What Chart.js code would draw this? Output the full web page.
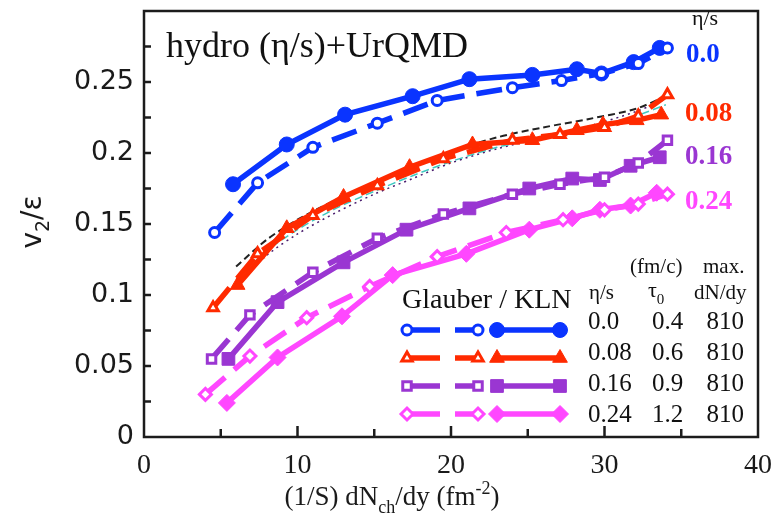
<!DOCTYPE html>
<html>
<head>
<meta charset="utf-8">
<script src="https://cdn.jsdelivr.net/npm/chart.js@4.4.0/dist/chart.umd.min.js"></script>
<style>
    html, body { margin: 0; padding: 0; background: #ffffff; }
    #wrap { width: 774px; height: 527px; }
</style>
</head>
<body>
<div id="wrap"><canvas id="v2Chart" width="774" height="527"></canvas></div>
<script>
// v2/eps vs (1/S) dNch/dy, hydro + UrQMD, Glauber (dashed) and KLN (solid)

// eta/s = 0.0
const glb00X = [4.6, 7.4, 11.0, 15.2, 19.1, 24.0, 27.2, 29.8, 32.2, 34.1];
const glb00Y = [0.144, 0.179, 0.204, 0.221, 0.237, 0.246, 0.251, 0.256, 0.263, 0.274];
const kln00X = [5.8, 9.3, 13.1, 17.5, 21.2, 25.3, 28.2, 29.8, 31.9, 33.6];
const kln00Y = [0.178, 0.206, 0.227, 0.240, 0.252, 0.255, 0.259, 0.256, 0.264, 0.274];

// eta/s = 0.08
const glb08X = [4.5, 7.4, 11.0, 15.2, 19.5, 24.0, 27.1, 30.0, 32.2, 34.1];
const glb08Y = [0.091, 0.129, 0.156, 0.177, 0.196, 0.209, 0.213, 0.218, 0.226, 0.241];
const kln08X = [6.1, 9.3, 13.0, 17.3, 21.4, 25.3, 28.2, 29.9, 32.1, 33.7];
const kln08Y = [0.107, 0.147, 0.169, 0.190, 0.206, 0.209, 0.216, 0.220, 0.223, 0.227];

// eta/s = 0.16
const glb16X = [4.4, 6.9, 11.0, 15.2, 19.5, 24.0, 27.1, 30.0, 32.2, 34.1];
const glb16Y = [0.055, 0.086, 0.116, 0.140, 0.157, 0.171, 0.178, 0.183, 0.193, 0.209];
const kln16X = [5.5, 8.7, 13.0, 17.1, 21.2, 25.1, 27.9, 29.7, 31.7, 33.6];
const kln16Y = [0.055, 0.095, 0.123, 0.146, 0.161, 0.175, 0.182, 0.181, 0.191, 0.197];

// eta/s = 0.24
const glb24X = [4.0, 6.9, 10.6, 14.7, 19.1, 23.6, 27.3, 30.0, 32.2, 34.1];
const glb24Y = [0.030, 0.057, 0.084, 0.106, 0.127, 0.144, 0.153, 0.160, 0.164, 0.171];
const kln24X = [5.4, 8.7, 12.9, 16.2, 21.0, 25.1, 27.9, 29.7, 31.7, 33.4];
const kln24Y = [0.024, 0.056, 0.085, 0.114, 0.129, 0.146, 0.154, 0.160, 0.163, 0.172];

// thin comparison curves around eta/s = 0.08
const refX = [6.0, 8.0, 10.0, 12.5, 15.0, 17.5, 20.0, 23.0, 26.0, 29.0, 32.0, 34.0];
const refBlackY = [0.120, 0.139, 0.153, 0.167, 0.179, 0.190, 0.201, 0.211, 0.218, 0.224, 0.231, 0.240];
const refCyanY = [0.111, 0.131, 0.146, 0.161, 0.173, 0.184, 0.194, 0.204, 0.211, 0.218, 0.226, 0.234];
const refDotY = [0.108, 0.128, 0.143, 0.158, 0.171, 0.182, 0.193, 0.203, 0.211, 0.219, 0.229, 0.238];

// axis ticks
const xTicks = [0, 10, 20, 30, 40];
const xMinorTicks = [5, 15, 25, 35];
const yTicks = [0, 0.05, 0.1, 0.15, 0.2, 0.25];
const yMinorTicks = [0.025, 0.075, 0.125, 0.175, 0.225, 0.275];

// legend table
const tableEta = ['0.0', '0.08', '0.16', '0.24'];
const tableTau = ['0.4', '0.6', '0.9', '1.2'];
const tableDn = ['810', '810', '810', '810'];

const BLUE = '#0a34ff';
const RED = '#ff2a00';
const PURPLE = '#9a36d2';
const PINK = '#ff47ff';
const SERIF = '"Liberation Serif", "DejaVu Serif", serif';
const SANS = '"DejaVu Sans", sans-serif';

function toPoints(xs, ys) {
    return xs.map((x, i) => ({ x: x, y: ys[i] }));
}

function glauberSet(xs, ys, color, style, radius) {
    return {
        data: toPoints(xs, ys),
        borderColor: color,
        borderWidth: 5.5,
        borderDash: [26, 12],
        pointStyle: style,
        pointRadius: radius,
        pointBackgroundColor: '#ffffff',
        pointBorderColor: color,
        pointBorderWidth: 3,
        tension: 0
    };
}

function klnSet(xs, ys, color, style, radius) {
    return {
        data: toPoints(xs, ys),
        borderColor: color,
        borderWidth: 5.5,
        pointStyle: style,
        pointRadius: radius,
        pointBackgroundColor: color,
        pointBorderColor: color,
        pointBorderWidth: 1,
        tension: 0
    };
}

function thinSet(xs, ys, color, dash, width) {
    return {
        data: toPoints(xs, ys),
        borderColor: color,
        borderWidth: width,
        borderDash: dash,
        pointRadius: 0,
        tension: 0.3
    };
}

// text with sub/superscript pieces: [text, shift] where shift 1 = sub, -1 = sup
function drawRich(ctx, parts, x, y, size, family, color, align) {
    const small = Math.round(size * 0.68);
    let total = 0;
    parts.forEach(p => {
        ctx.font = (p[1] ? small : size) + 'px ' + family;
        total += ctx.measureText(p[0]).width;
    });
    let cx = align === 'center' ? x - total / 2 : x;
    ctx.fillStyle = color;
    ctx.textAlign = 'left';
    ctx.textBaseline = 'alphabetic';
    parts.forEach(p => {
        ctx.font = (p[1] ? small : size) + 'px ' + family;
        const dy = p[1] === 1 ? size * 0.3 : (p[1] === -1 ? -size * 0.42 : 0);
        ctx.fillText(p[0], cx, y + dy);
        cx += ctx.measureText(p[0]).width;
    });
}

function legendKey(ctx, y, color, style, radius, openRadius) {
    const H = Chart.helpers;
    ctx.lineCap = 'butt';
    ctx.strokeStyle = color;
    ctx.lineWidth = 5.5;
    ctx.setLineDash([]);
    ctx.beginPath();
    ctx.moveTo(406, y); ctx.lineTo(440, y);
    ctx.moveTo(455, y); ctx.lineTo(479, y);
    ctx.moveTo(496, y); ctx.lineTo(561, y);
    ctx.stroke();
    // open markers on the dashed keys
    ctx.fillStyle = '#ffffff';
    ctx.lineWidth = 3;
    H.drawPoint(ctx, { pointStyle: style, radius: openRadius, rotation: 0, borderWidth: 3 }, 407, y);
    H.drawPoint(ctx, { pointStyle: style, radius: openRadius, rotation: 0, borderWidth: 3 }, 478, y);
    // filled markers on the solid key
    ctx.fillStyle = color;
    ctx.lineWidth = 1;
    H.drawPoint(ctx, { pointStyle: style, radius: radius, rotation: 0, borderWidth: 1 }, 497, y);
    H.drawPoint(ctx, { pointStyle: style, radius: radius, rotation: 0, borderWidth: 1 }, 560, y);
}

// drop the label overhang padding so the plot box sits where the layout says
function noOverhang(scale) {
    scale.paddingTop = 0;
    scale.paddingBottom = 0;
    scale.paddingLeft = 0;
    scale.paddingRight = 0;
}

const decorations = {
    id: 'decorations',
    afterDraw(chart) {
        const ctx = chart.ctx;
        const area = chart.chartArea;
        const xs = chart.scales.x;
        const ys = chart.scales.y;
        ctx.save();

        // frame
        ctx.setLineDash([]);
        ctx.strokeStyle = '#1c1c1c';
        ctx.lineWidth = 2.5;
        ctx.strokeRect(area.left, area.top, area.right - area.left, area.bottom - area.top);

        // inward ticks
        ctx.lineWidth = 2.5;
        ctx.beginPath();
        yTicks.concat(yMinorTicks).forEach(v => {
            if (v === 0) return;
            const py = ys.getPixelForValue(v);
            ctx.moveTo(area.left, py);
            ctx.lineTo(area.left + 7, py);
        });
        xTicks.forEach(v => {
            if (v === 0 || v === 40) return;
            const px = xs.getPixelForValue(v);
            ctx.moveTo(px, area.bottom);
            ctx.lineTo(px, area.bottom - 11);
        });
        xMinorTicks.forEach(v => {
            const px = xs.getPixelForValue(v);
            ctx.moveTo(px, area.bottom);
            ctx.lineTo(px, area.bottom - 8);
        });
        ctx.stroke();

        // axis titles
        drawRich(ctx, [['(1/S) dN', 0], ['ch', 1], ['/dy (fm', 0], ['-2', -1], [')', 0]],
            392, 505, 27, SERIF, '#1a1a1a', 'center');
        ctx.save();
        ctx.translate(41, 222);
        ctx.rotate(-Math.PI / 2);
        drawRich(ctx, [['v', 0], ['2', 1], ['/\u03b5', 0]], 0, 0, 28, SANS, '#1a1a1a', 'center');
        ctx.restore();

        // model label
        ctx.fillStyle = '#111111';
        ctx.textAlign = 'left';
        ctx.textBaseline = 'alphabetic';
        ctx.font = '36px ' + SERIF;
        ctx.fillText('hydro (\u03b7/s)+UrQMD', 166, 57);

        // eta/s labels at the curve ends
        ctx.font = '22px ' + SERIF;
        ctx.fillText('\u03b7/s', 692, 25);
        ctx.font = 'bold 27px ' + SERIF;
        ctx.fillStyle = BLUE;   ctx.fillText('0.0', 686, 62);
        ctx.fillStyle = RED;    ctx.fillText('0.08', 685, 121);
        ctx.fillStyle = PURPLE; ctx.fillText('0.16', 685, 164);
        ctx.fillStyle = PINK;   ctx.fillText('0.24', 685, 209);

        // legend
        ctx.fillStyle = '#111111';
        ctx.font = '28px ' + SERIF;
        ctx.fillText('Glauber / KLN', 402, 308);
        legendKey(ctx, 330, BLUE, 'circle', 7.5, 5);
        legendKey(ctx, 358, RED, 'triangle', 8.5, 6);
        legendKey(ctx, 386, PURPLE, 'rect', 9, 6);
        legendKey(ctx, 414, PINK, 'rectRot', 8.5, 6);

        // parameter table
        ctx.fillStyle = '#111111';
        ctx.textAlign = 'left';
        ctx.font = '21px ' + SERIF;
        ctx.fillText('(fm/c)', 630, 273);
        ctx.fillText('max.', 703, 273);
        ctx.fillText('\u03b7/s', 589, 299);
        drawRich(ctx, [['\u03c4', 0], ['0', 1]], 648, 297, 22, SERIF, '#111111', 'left');
        ctx.font = '21px ' + SERIF;
        ctx.fillStyle = '#111111';
        ctx.fillText('dN/dy', 694, 299);
        ctx.font = '25px ' + SERIF;
        const rowY = [329, 360, 391, 422];
        rowY.forEach((ry, i) => {
            ctx.textAlign = 'left';
            ctx.fillText(tableEta[i], 588, ry);
            ctx.fillText(tableTau[i], 652, ry);
            ctx.textAlign = 'right';
            ctx.fillText(tableDn[i], 744, ry);
        });
        ctx.restore();
    }
};

new Chart(document.getElementById('v2Chart'), {
    type: 'line',
    data: {
        datasets: [
            glauberSet(glb24X, glb24Y, PINK, 'rectRot', 6),
            klnSet(kln24X, kln24Y, PINK, 'rectRot', 8.5),
            glauberSet(glb16X, glb16Y, PURPLE, 'rect', 6),
            klnSet(kln16X, kln16Y, PURPLE, 'rect', 9),
            glauberSet(glb08X, glb08Y, RED, 'triangle', 6),
            klnSet(kln08X, kln08Y, RED, 'triangle', 8.5),
            thinSet(refX, refBlackY, '#222222', [7, 4], 2),
            thinSet(refX, refCyanY, '#3fc8c0', [8, 4], 1.5),
            thinSet(refX, refDotY, '#4a1d6e', [2, 4], 1.5),
            glauberSet(glb00X, glb00Y, BLUE, 'circle', 5),
            klnSet(kln00X, kln00Y, BLUE, 'circle', 7.5)
        ]
    },
    options: {
        responsive: false,
        devicePixelRatio: 1,
        animation: false,
        layout: { padding: { left: 0, right: 16, top: 11, bottom: 0 } },
        plugins: {
            legend: { display: false },
            tooltip: { enabled: false }
        },
        scales: {
            x: {
                type: 'linear',
                min: 0,
                max: 40,
                afterBuildTicks: (scale) => { scale.ticks = xTicks.map(v => ({ value: v })); },
                afterFit: (scale) => { scale.height = 90; noOverhang(scale); },
                grid: { display: false, drawTicks: false },
                border: { display: false },
                ticks: {
                    padding: 12,
                    color: '#1a1a1a',
                    font: { family: SERIF, size: 28 },
                    maxRotation: 0
                }
            },
            y: {
                type: 'linear',
                min: 0,
                max: 0.3,
                afterBuildTicks: (scale) => { scale.ticks = yTicks.map(v => ({ value: v })); },
                afterFit: (scale) => { scale.width = 144; noOverhang(scale); },
                grid: { display: false, drawTicks: false },
                border: { display: false },
                ticks: {
                    padding: 10,
                    color: '#1a1a1a',
                    font: { family: SANS, size: 27 },
                    callback: (v) => String(+v.toFixed(3))
                }
            }
        }
    },
    plugins: [decorations]
});
</script>
</body>
</html>
